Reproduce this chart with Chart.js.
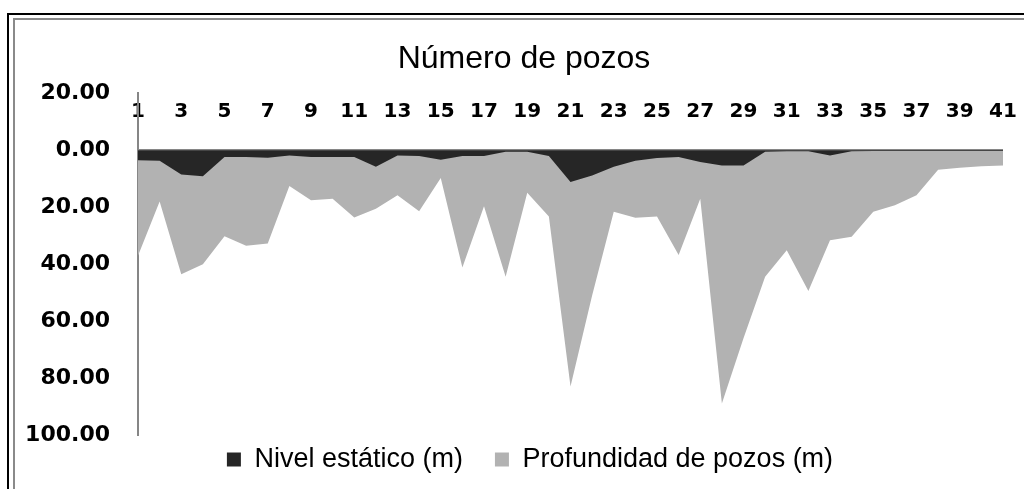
<!DOCTYPE html>
<html>
<head>
<meta charset="utf-8">
<script src="https://cdn.jsdelivr.net/npm/chart.js@4.4.1/dist/chart.umd.min.js"></script>
<style>
  html, body { margin: 0; padding: 0; background: #fff; }
  #wrap { position: relative; width: 1024px; height: 489px; overflow: hidden; }
  .frame1 { position: absolute; left: 7px; top: 13px; right: -10px; bottom: -10px;
            border-left: 2px solid #000; border-top: 2px solid #000; }
  .frame2 { position: absolute; left: 13px; top: 18px; right: -10px; bottom: -10px;
            border-left: 2px solid #8a8a8a; border-top: 2px solid #8a8a8a; }
  canvas { position: absolute; left: 0; top: 0; }
</style>
</head>
<body>
<div id="wrap">
  <div class="frame1"></div>
  <div class="frame2"></div>
  <canvas id="pozosChart" width="1024" height="489"></canvas>
</div>
<script>
// pozo numbers (categories)
var pozos = ['1','2','3','4','5','6','7','8','9','10','11','12','13','14','15','16','17','18','19','20',
             '21','22','23','24','25','26','27','28','29','30','31','32','33','34','35','36','37','38','39','40','41'];

// Nivel estatico (m)
var nivelEstatico = [3.5, 3.7, 8.5, 9.1, 2.3, 2.3, 2.6, 1.8, 2.3, 2.3,
                     2.3, 5.8, 1.8, 2.0, 3.3, 2.0, 2.0, 0.5, 0.5, 2.0,
                     11.1, 8.8, 5.8, 3.7, 2.7, 2.3, 4.1, 5.3, 5.3, 0.5,
                     0.3, 0.3, 1.8, 0.3, 0.2, 0.2, 0.2, 0.2, 0.2, 0.2, 0.2];

// Profundidad de pozos (m)
var profundidad = [37, 18, 43.5, 40, 30.2, 33.5, 32.7, 12.5, 17.5, 17,
                   23.6, 20.5, 15.8, 21.4, 9.7, 41.2, 19.6, 44.4, 14.9, 23.2,
                   83, 51, 21.6, 23.7, 23.2, 36.8, 17, 88.9, 66, 44.4,
                   35.1, 49.4, 31.6, 30.4, 21.6, 19.3, 15.8, 6.8, 6.1, 5.6, 5.3];

// y axis ticks
var yMin = -20, yMax = 100, yStep = 20;

// nudge title and legend to where excel put them
var nudgeBoxes = {
    id: 'nudgeBoxes',
    afterLayout: function (chart) {
        var t = chart.titleBlock, l = chart.legend;
        t.left += 11; t.right += 11;
        l.left += 17; l.right += 17;
        l.top -= 21; l.bottom -= 21;
    }
};

var ctx = document.getElementById('pozosChart').getContext('2d');
var chart = new Chart(ctx, {
    type: 'line',
    data: {
        labels: pozos,
        datasets: [{
            label: 'Nivel estático (m)',
            data: nivelEstatico,
            backgroundColor: '#262626',
            borderColor: '#262626',
            borderWidth: 0,
            fill: 'origin',
            pointRadius: 0,
            tension: 0
        }, {
            label: 'Profundidad de pozos (m)',
            data: profundidad,
            backgroundColor: '#b2b2b2',
            borderColor: '#b2b2b2',
            borderWidth: 0,
            fill: 'origin',
            pointRadius: 0,
            tension: 0
        }]
    },
    plugins: [nudgeBoxes],
    options: {
        responsive: false,
        animation: false,
        layout: {
            padding: { left: 23, right: 21, top: 20, bottom: -15 }
        },
        plugins: {
            title: {
                display: true,
                text: 'Número de pozos',
                color: '#000',
                font: { family: 'Liberation Sans', size: 32, weight: 'normal' },
                padding: { top: 20, bottom: 15 }
            },
            legend: {
                position: 'bottom',
                labels: {
                    color: '#000',
                    boxWidth: 14,
                    boxHeight: 14,
                    padding: 32,
                    font: { family: 'Liberation Sans', size: 27 }
                }
            },
            tooltip: { enabled: false }
        },
        scales: {
            x: {
                position: { y: yMin },
                grid: { display: false },
                border: { display: false },
                ticks: {
                    autoSkip: false,
                    maxRotation: 0,
                    padding: -2,
                    color: '#000',
                    font: { family: 'DejaVu Sans', size: 20, weight: 'bold' },
                    callback: function (value, index) {
                        return index % 2 === 0 ? pozos[index] : '';
                    }
                }
            },
            y: {
                reverse: true,
                min: yMin,
                max: yMax,
                z: 1,
                afterFit: function (scale) {
                    scale.width = 115;
                },
                border: { display: true, color: '#868686', width: 2 },
                grid: {
                    drawTicks: false,
                    lineWidth: 2,
                    color: function (c) {
                        return c.tick && c.tick.value === 0 ? '#868686' : 'rgba(0,0,0,0)';
                    }
                },
                ticks: {
                    stepSize: yStep,
                    padding: 28,
                    color: '#000',
                    font: { family: 'DejaVu Sans', size: 22, weight: 'bold' },
                    callback: function (v) {
                        return Math.abs(v).toFixed(2);
                    }
                }
            }
        }
    }
});
</script>
</body>
</html>
